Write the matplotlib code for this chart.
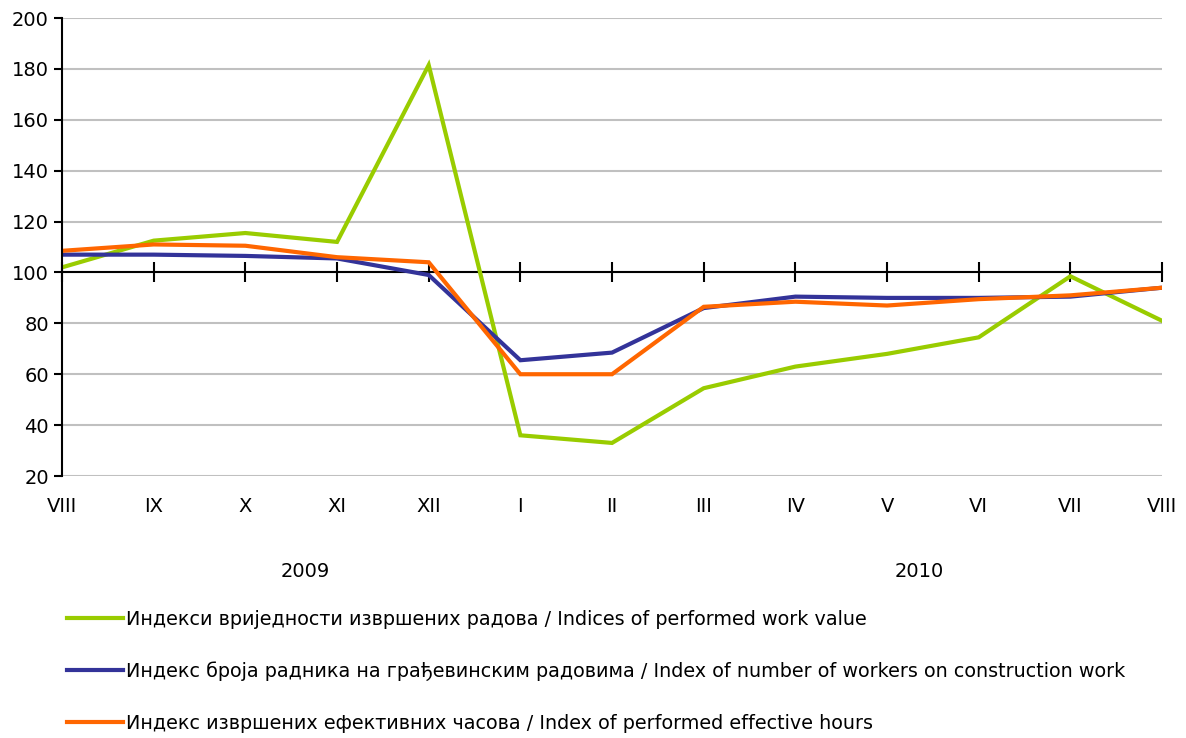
import numpy as np
import matplotlib
matplotlib.use("Agg")
import matplotlib.pyplot as plt
from matplotlib.transforms import blended_transform_factory

# month labels on the category axis
months = ["VIII", "IX", "X", "XI", "XII", "I", "II", "III", "IV", "V", "VI", "VII", "VIII"]
years = ["2009", "2010"]

# index values
work_value = [102, 112.5, 115.5, 112, 181.5, 36, 33, 54.5, 63, 68, 74.5, 98.5, 81]
workers = [107, 107, 106.5, 105.5, 99, 65.5, 68.5, 86, 90.5, 90, 90, 90.5, 94]
eff_hours = [108.5, 111, 110.5, 106, 104, 60, 60, 86.5, 88.5, 87, 89.5, 91, 94]

labels = [
    "Индекси вриједности извршених радова / Indices of performed work value",
    "Индекс броја радника на грађевинским радовима / Index of number of workers on construction work",
    "Индекс извршених ефективних часова / Index of performed effective hours",
]
colors = ["#99CC00", "#333399", "#FF6600"]

plt.rcParams["font.family"] = ["DejaVu Sans"]
plt.rcParams["font.size"] = 13

fig = plt.figure(figsize=(11.86, 7.38), dpi=100)
ax = fig.add_axes([0.0523, 0.355, 0.9275, 0.6206])

x = np.arange(len(months))
series = [work_value, workers, eff_hours]
for vals, lab, col in zip(series, labels, colors):
    ax.plot(x, vals, color=col, lw=3, label=lab, solid_joinstyle="miter")

ax.set_xlim(0, len(months) - 1)
ax.set_ylim(20, 200)
ax.set_yticks(np.arange(20, 201, 20))
ax.yaxis.grid(True, color="#C0C0C0", lw=1.5)
ax.set_axisbelow(True)

for s in ["top", "right"]:
    ax.spines[s].set_visible(False)
ax.spines["left"].set_linewidth(1.5)
ax.spines["bottom"].set_position(("data", 100))
ax.spines["bottom"].set_linewidth(1.5)
ax.spines["bottom"].set_zorder(1.5)
ax.tick_params(axis="y", direction="out", length=6, width=1.5, labelsize=14)
ax.set_xticks(x)
ax.tick_params(axis="x", direction="inout", length=14, width=1.5, labelbottom=False)

# month labels at the bottom of the plot area
sec = ax.secondary_xaxis("bottom")
sec.set_xticks(x)
sec.set_xticklabels(months)
sec.tick_params(length=0, labelsize=14, pad=15)
sec.spines["bottom"].set_visible(False)

# year labels
tr = blended_transform_factory(ax.transData, fig.transFigure)
ax.text(2.65, 0.225, years[0], transform=tr, ha="center", va="center", fontsize=14)
ax.text(9.35, 0.225, years[1], transform=tr, ha="center", va="center", fontsize=14)

fig.legend(loc="upper left", bbox_to_anchor=(0.05, 0.184), frameon=False,
           fontsize=13.8, handlelength=2.9, handletextpad=0.2, labelspacing=1.7,
           borderaxespad=0)

fig.savefig("out.png", dpi=100)
